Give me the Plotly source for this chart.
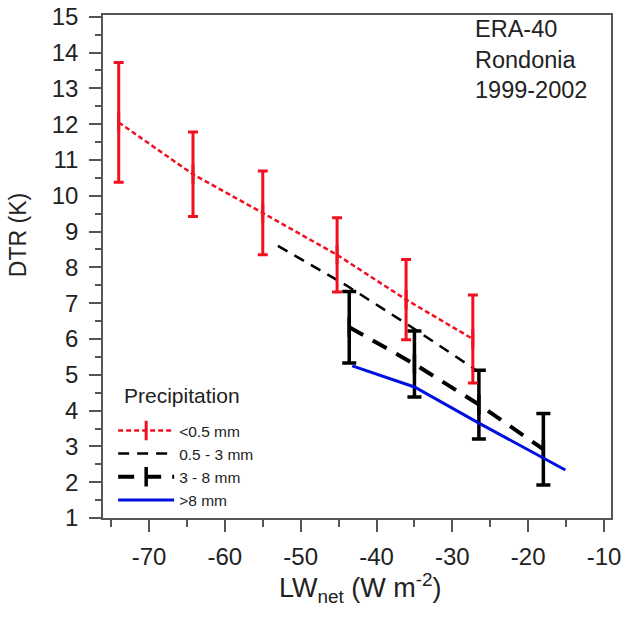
import plotly.graph_objects as go

# Diurnal temperature range vs net longwave, binned by daily precipitation
lw_dry = [-74.0, -64.2, -55.0, -45.2, -36.1, -27.3]
dtr_dry = [12.05, 10.6, 9.52, 8.35, 7.1, 6.0]
err_dry = [1.67, 1.18, 1.17, 1.04, 1.12, 1.23]

lw_light = [-53.0, -44.0, -35.5, -27.0]
dtr_light = [8.6, 7.5, 6.35, 5.15]

lw_mod = [-43.6, -35.0, -26.5, -18.0]
dtr_mod = [6.33, 5.3, 4.17, 2.92]
err_mod = [1.0, 0.92, 0.96, 1.0]

lw_heavy = [-43.2, -35.0, -26.5, -15.1]
dtr_heavy = [5.25, 4.66, 3.65, 2.34]

labels = ["<0.5 mm", "0.5 - 3 mm", "3 - 8 mm", ">8 mm"]

x_tickvals = [-70, -60, -50, -40, -30, -20, -10]
x_ticktext = ["-70", "-60", "-50", "-40", "-30", "-20", "-10"]

FONT = "Liberation Sans, Arial, sans-serif"
RED = "#f01020"
BLUE = "#0010e0"

fig = go.Figure()

fig.add_trace(go.Scatter(
    x=lw_light, y=dtr_light, mode="lines", name=labels[1], legendrank=2,
    line=dict(color="black", width=2.5, dash="11px,8px"),
))
fig.add_trace(go.Scatter(
    x=lw_mod, y=dtr_mod, mode="lines+markers", name=labels[2], legendrank=3,
    line=dict(color="black", width=4, dash="16px,11px"),
    marker=dict(symbol="line-ns", size=14, line=dict(color="black", width=3.5)),
    error_y=dict(type="data", array=err_mod, color="black", thickness=3.5, width=7),
))
fig.add_trace(go.Scatter(
    x=lw_heavy, y=dtr_heavy, mode="lines", name=labels[3], legendrank=4,
    line=dict(color=BLUE, width=3),
))
fig.add_trace(go.Scatter(
    x=lw_dry, y=dtr_dry, mode="lines+markers", name=labels[0], legendrank=1,
    line=dict(color=RED, width=2.5, dash="5px,3px"),
    marker=dict(symbol="line-ns", size=14, line=dict(color=RED, width=3)),
    error_y=dict(type="data", array=err_dry, color=RED, thickness=3, width=5),
))

axis_common = dict(
    showline=True, linecolor="#555555", linewidth=1.5, mirror=True,
    showgrid=False, zeroline=False, automargin=False,
    ticks="outside", tickcolor="#555555", tickwidth=1.5, ticklen=12,
    tickfont=dict(family=FONT, size=24, color="#222222"),
)

fig.update_xaxes(
    range=[-76.07, -9.08], tickmode="array", tickvals=x_tickvals, ticktext=x_ticktext,
    minor=dict(dtick=5, tick0=-75, ticks="outside", ticklen=7, tickcolor="#555555", tickwidth=1.5),
    ticklabelstandoff=4, ticklabeloverflow="allow",
    **axis_common,
)
fig.update_yaxes(
    range=[1, 15.05], tick0=1, dtick=1,
    minor=dict(dtick=0.5, ticks="outside", ticklen=6, tickcolor="#555555", tickwidth=1.5),
    ticklabelstandoff=6,
    **axis_common,
)

fig.add_annotation(
    text="DTR (K)", textangle=-90, xref="paper", yref="paper",
    x=-0.167, y=0.5626, xanchor="center", yanchor="middle", showarrow=False,
    font=dict(family=FONT, size=23, color="#222222"),
)
fig.add_annotation(
    text="LW<sub>net</sub> (W m<sup>-2</sup>)", xref="paper", yref="paper",
    x=0.506, y=-0.14, xanchor="center", yanchor="middle", showarrow=False,
    font=dict(family=FONT, size=27, color="#222222"),
)
fig.add_annotation(
    text="ERA-40<br>Rondonia<br>1999-2002", xref="paper", yref="paper",
    x=0.728, y=1.002, xanchor="left", yanchor="top", align="left", showarrow=False,
    font=dict(family=FONT, size=23.5, color="#222222"),
)
# legend heading
fig.add_annotation(
    text="Precipitation", xref="paper", yref="paper",
    x=0.037, y=0.244, xanchor="left", yanchor="middle", showarrow=False,
    font=dict(family=FONT, size=21, color="#222222"),
)

fig.update_layout(
    width=622, height=617,
    margin=dict(l=103, r=11, t=15, b=99),
    paper_bgcolor="white", plot_bgcolor="white",
    font=dict(family=FONT, color="#222222"),
    legend=dict(
        x=0.02, y=0.207, xanchor="left", yanchor="top",
        bgcolor="rgba(0,0,0,0)", borderwidth=0,
        font=dict(family=FONT, size=15.5), itemwidth=56,
        tracegroupgap=0,
    ),
)

fig.write_html("out.html")
